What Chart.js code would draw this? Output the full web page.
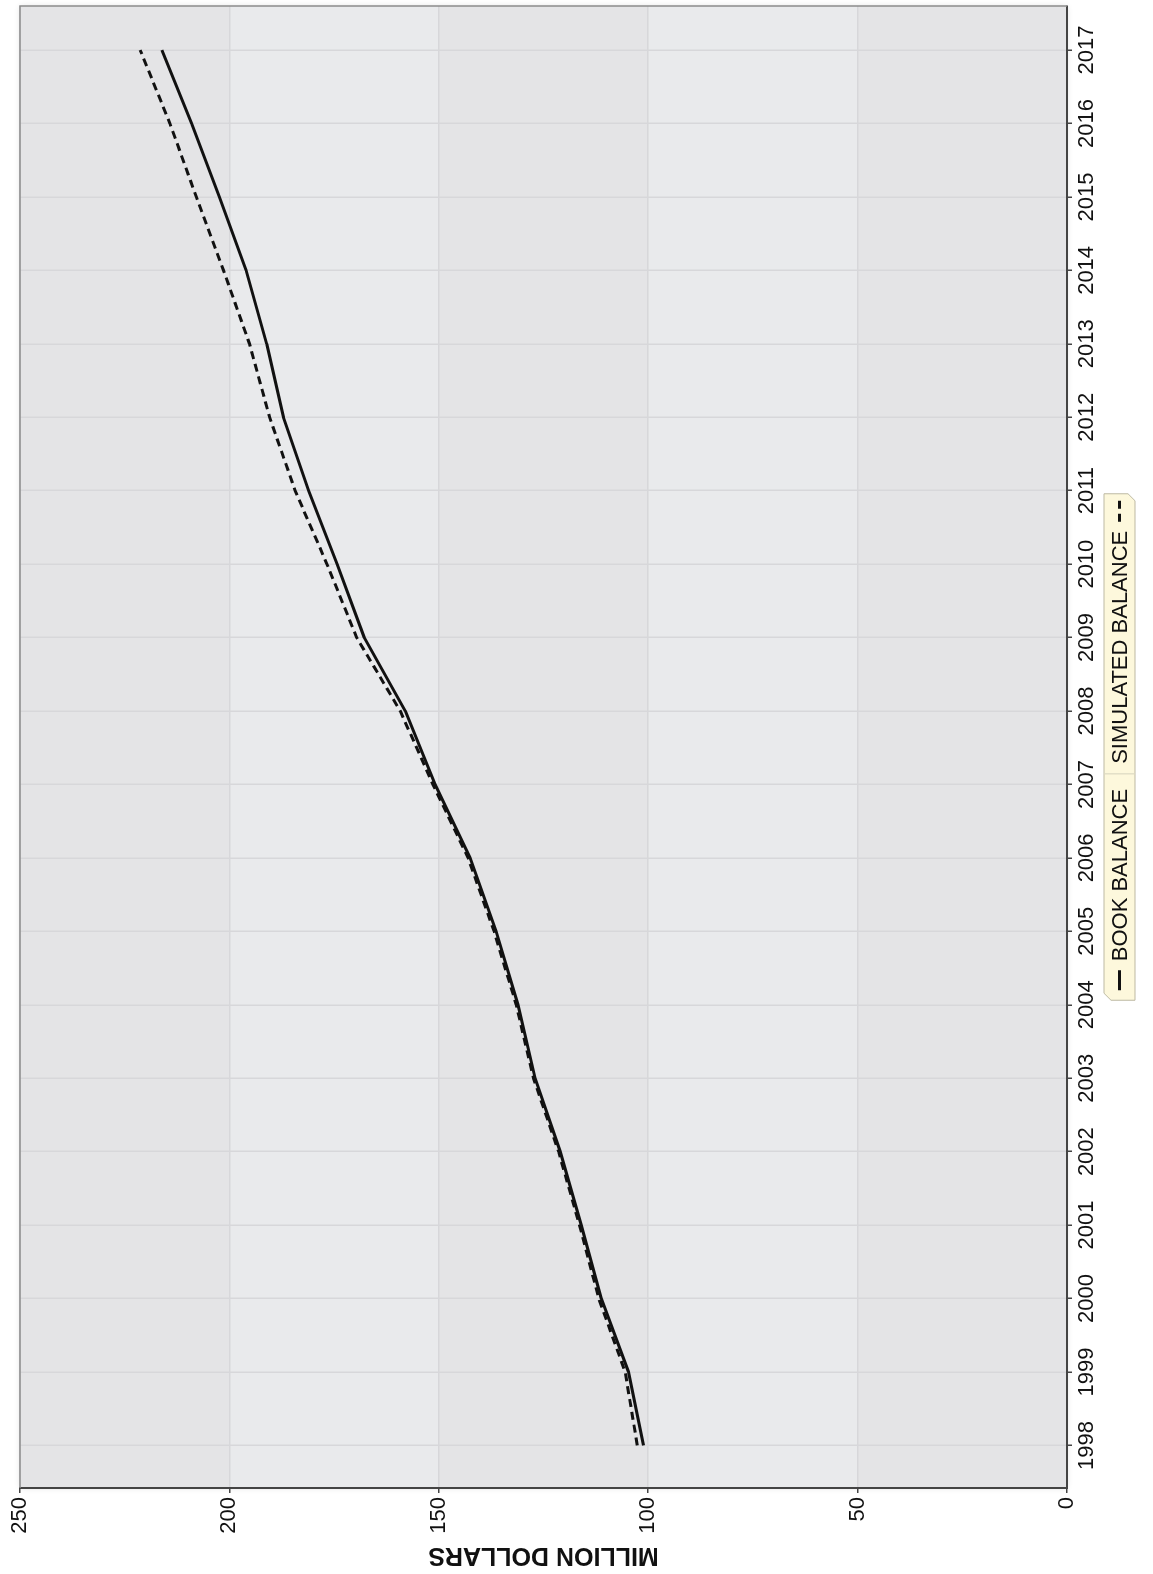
<!DOCTYPE html>
<html>
<head>
<meta charset="utf-8">
<title>Book balance vs simulated balance</title>
<script src="https://cdn.jsdelivr.net/npm/chart.js@4.4.0/dist/chart.umd.min.js"></script>
<style>
  html, body { margin: 0; padding: 0; background: #fff; overflow: hidden; }
  /* chart is laid out landscape, then turned a quarter turn to stand upright */
  #wrap {
    position: absolute; left: 0; top: 0;
    width: 1574px; height: 1153px;
    transform-origin: 0 0;
    transform: translate(0px, 1574px) rotate(-90deg);
  }
</style>
</head>
<body>
<div id="wrap"><canvas id="balance-chart" width="1574" height="1153"></canvas></div>
<script>
// ---- data ----
const YEARS = [1998, 1999, 2000, 2001, 2002, 2003, 2004, 2005, 2006, 2007,
               2008, 2009, 2010, 2011, 2012, 2013, 2014, 2015, 2016, 2017];
const BOOK_BALANCE = [101.1, 104.7, 111.2, 116.0, 121.0, 127.0, 131.1, 136.3, 142.5, 150.9,
                      158.0, 167.8, 174.3, 181.1, 187.1, 191.1, 196.0, 202.4, 209.0, 216.1];
const SIMULATED_BALANCE = [102.6, 105.5, 111.8, 116.4, 121.4, 127.4, 131.5, 136.8, 143.0, 151.4,
                           159.2, 169.6, 176.7, 184.3, 190.4, 195.2, 201.4, 207.9, 214.2, 221.3];
const VALUE_TICKS = [0, 50, 100, 150, 200, 250];
const SERIES_NAMES = ['BOOK BALANCE', 'SIMULATED BALANCE'];
const AXIS_TITLE = 'MILLION DOLLARS';

const FONT = '"Liberation Sans", Arial, Helvetica, sans-serif';
const INK = '#111111';

const toPoints = (vals) => YEARS.map((yr, i) => ({ x: yr, y: vals[i] }));

// alternating horizontal bands behind the plot, one per value step
const plotBands = {
  id: 'plotBands',
  beforeDraw(chart) {
    const { ctx, chartArea: a, scales: { y } } = chart;
    ctx.save();
    ctx.shadowColor = 'rgba(0,0,0,0.12)';
    ctx.shadowBlur = 6;
    ctx.fillStyle = '#e4e4e6';
    ctx.fillRect(a.left, a.top, a.right - a.left, a.bottom - a.top);
    ctx.restore();
    ctx.save();
    for (let i = 0; i < VALUE_TICKS.length - 1; i++) {
      const y0 = y.getPixelForValue(VALUE_TICKS[i]);
      const y1 = y.getPixelForValue(VALUE_TICKS[i + 1]);
      ctx.fillStyle = i % 2 === 0 ? '#e4e4e6' : '#e9eaec';
      ctx.fillRect(a.left, y1, a.right - a.left, y0 - y1);
    }
    ctx.restore();
  }
};

// light frame on the two open sides of the plot
const plotFrame = {
  id: 'plotFrame',
  afterDatasetsDraw(chart) {
    const { ctx, chartArea: a } = chart;
    ctx.save();
    ctx.strokeStyle = '#8c8c8c';
    ctx.lineWidth = 1.5;
    ctx.beginPath();
    ctx.moveTo(a.left, a.top);
    ctx.lineTo(a.right, a.top);
    ctx.lineTo(a.right, a.bottom);
    ctx.stroke();
    ctx.restore();
  }
};

// tag-shaped legend under the year labels
const tagLegend = {
  id: 'tagLegend',
  afterDraw(chart, args, opts) {
    const { ctx, chartArea: a } = chart;
    const sets = chart.data.datasets;
    ctx.save();
    ctx.font = '22px ' + FONT;
    const w0 = ctx.measureText(sets[0].label).width;
    const w1 = ctx.measureText(sets[1].label).width;
    const sym = 20, pad = 10, gap = 9, sep = 15;
    const total = pad + sym + gap + w0 + sep + sep - 5 + w1 + gap + sym + 8;
    const cx = (a.left + a.right) / 2;
    const left = cx - total / 2, right = cx + total / 2;
    const top = opts.top, bottom = opts.top + opts.height;
    const cut = 7;

    ctx.beginPath();
    ctx.moveTo(left + cut, top);
    ctx.lineTo(right, top);
    ctx.lineTo(right, bottom - cut);
    ctx.lineTo(right - cut, bottom);
    ctx.lineTo(left, bottom);
    ctx.lineTo(left, top + cut);
    ctx.closePath();
    ctx.fillStyle = '#fdf8dc';
    ctx.fill();
    ctx.strokeStyle = '#bdb9a3';
    ctx.lineWidth = 1;
    ctx.stroke();

    const midY = (top + bottom) / 2;
    let x = left + pad;

    // solid swatch, then first label
    ctx.strokeStyle = INK;
    ctx.lineWidth = 3;
    ctx.setLineDash(sets[0].borderDash || []);
    ctx.beginPath();
    ctx.moveTo(x, midY);
    ctx.lineTo(x + sym, midY);
    ctx.stroke();
    x += sym + gap;

    ctx.fillStyle = INK;
    ctx.textBaseline = 'middle';
    ctx.textAlign = 'left';
    ctx.fillText(sets[0].label, x, midY + 1);
    x += w0 + sep;

    // divider
    ctx.setLineDash([]);
    ctx.strokeStyle = '#d6d2bc';
    ctx.lineWidth = 1;
    ctx.beginPath();
    ctx.moveTo(x, top + 1);
    ctx.lineTo(x, bottom - 1);
    ctx.stroke();
    x += sep - 5;

    // second label, then dashed swatch
    ctx.fillText(sets[1].label, x, midY + 1);
    x += w1 + gap;
    ctx.strokeStyle = INK;
    ctx.lineWidth = 3;
    ctx.setLineDash(sets[1].borderDash);
    ctx.beginPath();
    ctx.moveTo(x, midY);
    ctx.lineTo(x + sym + 1, midY);
    ctx.stroke();
    ctx.restore();
  }
};

const ctx = document.getElementById('balance-chart').getContext('2d');

new Chart(ctx, {
  type: 'line',
  data: {
    datasets: [
      {
        label: SERIES_NAMES[0],
        data: toPoints(BOOK_BALANCE),
        borderColor: INK,
        borderWidth: 3,
        pointRadius: 0,
        tension: 0,
        borderJoinStyle: 'round'
      },
      {
        label: SERIES_NAMES[1],
        data: toPoints(SIMULATED_BALANCE),
        borderColor: INK,
        borderWidth: 3,
        borderDash: [8, 5],
        pointRadius: 0,
        tension: 0,
        borderJoinStyle: 'round'
      }
    ]
  },
  options: {
    responsive: false,
    animation: false,
    devicePixelRatio: 1,
    layout: { padding: { top: 20, right: 6, bottom: 0, left: 0 } },
    plugins: {
      legend: { display: false },
      tooltip: { enabled: false },
      tagLegend: { top: 1104, height: 31 }
    },
    scales: {
      x: {
        type: 'linear',
        min: 1997.42,
        max: 2017.6,
        afterBuildTicks: (s) => { s.ticks = YEARS.map((v) => ({ value: v })); },
        afterFit: (s) => { s.height = 86; },
        ticks: {
          autoSkip: false,
          maxRotation: 0,
          padding: 2,
          color: INK,
          font: { family: FONT, size: 22 },
          callback: (v) => String(v)
        },
        grid: { color: '#d7d7da', lineWidth: 1.5, tickLength: 5, tickColor: '#444', tickWidth: 1.5 },
        border: { display: true, color: '#444', width: 2 }
      },
      y: {
        min: 0,
        max: 250,
        afterBuildTicks: (s) => { s.ticks = VALUE_TICKS.map((v) => ({ value: v })); },
        afterFit: (s) => { s.width = 86; },
        ticks: {
          padding: 4,
          color: INK,
          font: { family: FONT, size: 22 }
        },
        grid: { color: '#d7d7da', lineWidth: 1.5, tickLength: 5, tickColor: '#444', tickWidth: 1.5 },
        border: { display: true, color: '#444', width: 2 },
        title: {
          display: true,
          text: AXIS_TITLE,
          color: INK,
          padding: { top: 4, bottom: 0 },
          font: { family: FONT, size: 25, weight: 'bold' }
        }
      }
    }
  },
  plugins: [plotBands, plotFrame, tagLegend]
});
</script>
</body>
</html>
